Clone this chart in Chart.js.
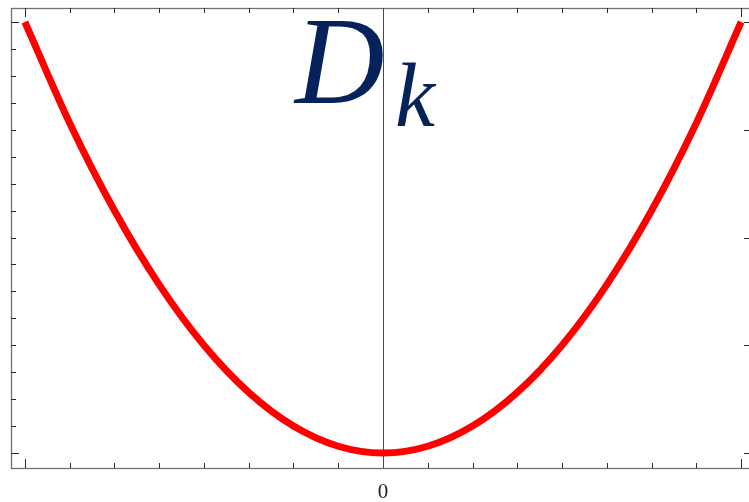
<!DOCTYPE html>
<html>
<head>
<meta charset="utf-8">
<title>D_k</title>
<script src="https://cdn.jsdelivr.net/npm/chart.js@4/dist/chart.umd.min.js"></script>
<style>
  html, body { margin: 0; padding: 0; background: #ffffff; overflow: hidden; }
  #wrap { width: 749px; height: 502px; overflow: hidden; position: relative; }
  canvas { display: block; }
</style>
</head>
<body>
<div id="wrap"><canvas id="chart" width="760" height="502" style="width:760px;height:502px"></canvas></div>
<script>
// momentum grid and the dispersion values D_k at each point
const kValues = [-8, -7, -6, -5, -4, -3, -2, -1, 0, 1, 2, 3, 4, 5, 6, 7, 8];
const dValues = [16, 12.25, 9, 6.25, 4, 2.25, 1, 0.25, 0, 0.25, 1, 2.25, 4, 6.25, 9, 12.25, 16];

// tick marks on the frame
const xTickValues = [-8, -7, -6, -5, -4, -3, -2, -1, 0, 1, 2, 3, 4, 5, 6, 7, 8];
const xMajorTicks = [-8, 8];
const yTickValues = [0, 1, 2, 3, 4, 5, 6, 7, 8, 9, 10, 11, 12, 13, 14, 15, 16];
const yMajorTicks = [0, 16];
const rightTickValues = [0, 4, 8, 12, 16];
const xTickLabels = [{ value: 0, text: '0' }];

const frameColor = '#707070';
const tickColor = '#2a2a2a';

const framePlugin = {
  id: 'frame',
  beforeDatasetsDraw(chart) {
    const { ctx, chartArea: a, scales: { x, y } } = chart;
    ctx.save();

    // title D_k
    ctx.fillStyle = '#05235a';
    ctx.textBaseline = 'alphabetic';
    ctx.textAlign = 'left';
    ctx.font = 'italic 124px "Liberation Serif", "DejaVu Serif", serif';
    ctx.fillText('D', 295, 103);
    ctx.font = 'italic 90px "Liberation Serif", "DejaVu Serif", serif';
    ctx.fillText('k', 395, 126);

    // frame
    ctx.strokeStyle = frameColor;
    ctx.lineWidth = 1.3;
    ctx.strokeRect(Math.round(a.left) + 0.5, Math.round(a.top) + 0.5,
                   Math.round(a.right - a.left), Math.round(a.bottom - a.top));

    // ticks
    ctx.strokeStyle = tickColor;
    ctx.lineWidth = 1;
    ctx.beginPath();
    xTickValues.forEach(v => {
      const px = Math.round(x.getPixelForValue(v)) + 0.5;
      const len = xMajorTicks.includes(v) ? 9 : 5;
      ctx.moveTo(px, a.bottom); ctx.lineTo(px, a.bottom - len);
      ctx.moveTo(px, a.top); ctx.lineTo(px, a.top + len);
    });
    yTickValues.forEach(v => {
      const py = Math.round(y.getPixelForValue(v)) + 0.5;
      const len = yMajorTicks.includes(v) ? 8 : 5;
      ctx.moveTo(a.left, py); ctx.lineTo(a.left + len, py);
    });
    rightTickValues.forEach(v => {
      const py = Math.round(y.getPixelForValue(v)) + 0.5;
      ctx.moveTo(a.right, py); ctx.lineTo(a.right - 11, py);
    });
    ctx.stroke();

    // vertical line at k = 0
    const x0 = Math.round(x.getPixelForValue(0)) + 0.5;
    ctx.strokeStyle = '#4a4a4a';
    ctx.lineWidth = 1;
    ctx.beginPath();
    ctx.moveTo(x0, a.top);
    ctx.lineTo(x0, a.bottom);
    ctx.stroke();

    // tick labels
    ctx.fillStyle = '#222222';
    ctx.font = '21px "Liberation Serif", "DejaVu Serif", serif';
    ctx.textAlign = 'center';
    xTickLabels.forEach(t => {
      ctx.fillText(t.text, x.getPixelForValue(t.value), 498);
    });

    ctx.restore();
  }
};

new Chart(document.getElementById('chart'), {
  type: 'line',
  data: {
    datasets: [{
      data: kValues.map((k, i) => ({ x: k, y: dValues[i] })),
      borderColor: '#ff0000',
      borderWidth: 7,
      pointRadius: 0,
      fill: false,
      cubicInterpolationMode: 'monotone'
    }]
  },
  options: {
    responsive: false,
    animation: false,
    layout: { padding: { left: 11, top: 8, right: 5, bottom: 34 } },
    scales: {
      x: { type: 'linear', min: -8.31, max: 8.31, display: false },
      y: { type: 'linear', min: -0.557, max: 16.52, display: false }
    },
    plugins: {
      legend: { display: false },
      tooltip: { enabled: false }
    }
  },
  plugins: [framePlugin]
});
</script>
</body>
</html>
